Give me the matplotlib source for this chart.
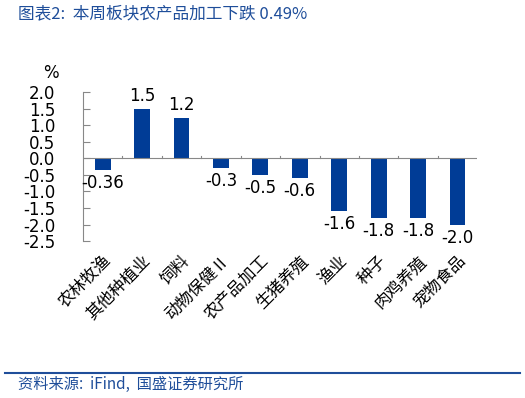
import matplotlib.pyplot as plt
import numpy as np

plt.rcParams['font.family'] = ['Noto Sans CJK SC', 'DejaVu Sans']

categories = ["农林牧渔", "其他种植业", "饲料", "动物保健Ⅱ", "农产品加工",
              "生猪养殖", "渔业", "种子", "肉鸡养殖", "宠物食品"]
values = [-0.36, 1.5, 1.2, -0.3, -0.5, -0.6, -1.6, -1.8, -1.8, -2.0]
labels = ["-0.36", "1.5", "1.2", "-0.3", "-0.5", "-0.6", "-1.6", "-1.8", "-1.8", "-2.0"]
yticks = [2.0, 1.5, 1.0, 0.5, 0.0, -0.5, -1.0, -1.5, -2.0, -2.5]

blue = "#003C96"
title_blue = "#1F4E9A"

fig = plt.figure(figsize=(5.25, 3.98), dpi=100)
ax = fig.add_axes([0.158, 0.394, 0.751, 0.375])

x = np.arange(len(categories))
ax.bar(x, values, width=0.4, color=blue)
ax.axhline(0, color="#888888", lw=0.8)
for b in x[:-1] + 0.5:
    ax.plot([b, b], [0, 0.08], color="#888888", lw=0.8)

for xi, v, t in zip(x, values, labels):
    if v >= 0:
        ax.text(xi, v + 0.12, t, ha="center", va="bottom", fontsize=12,
                family="DejaVu Sans")
    else:
        ax.text(xi, v - 0.12, t, ha="center", va="top", fontsize=12,
                family="DejaVu Sans")

ax.set_xlim(-0.5, len(categories) - 0.5)
ax.set_ylim(-2.5, 2.0)
ax.set_yticks(yticks)
ax.set_yticklabels([f"{t:.1f}" for t in yticks], fontsize=12, family="DejaVu Sans")
ax.tick_params(axis="y", direction="in", length=5, color="#888888", pad=20)
ax.set_xticks(x)
ax.set_xticklabels(categories, rotation=45, ha="right", va="top",
                   rotation_mode="anchor", fontsize=12)
ax.tick_params(axis="x", length=0, pad=8)
for s in ["top", "right", "bottom"]:
    ax.spines[s].set_visible(False)
ax.spines["left"].set_color("#888888")
ax.text(-0.08, 1.065, "%", transform=ax.transAxes, fontsize=12,
        ha="center", va="bottom", family="DejaVu Sans")

fig.text(0.035, 0.965, "图表2:  本周板块农产品加工下跌 0.49%", fontsize=12,
         color=title_blue, style="italic", va="center")
fig.add_artist(plt.Line2D([0.01, 0.99], [0.063, 0.063], color=title_blue, lw=1.5))
fig.text(0.035, 0.033, "资料来源:  iFind,  国盛证券研究所", fontsize=11,
         color=title_blue, style="italic", va="center")

plt.savefig("out.png", dpi=100)
